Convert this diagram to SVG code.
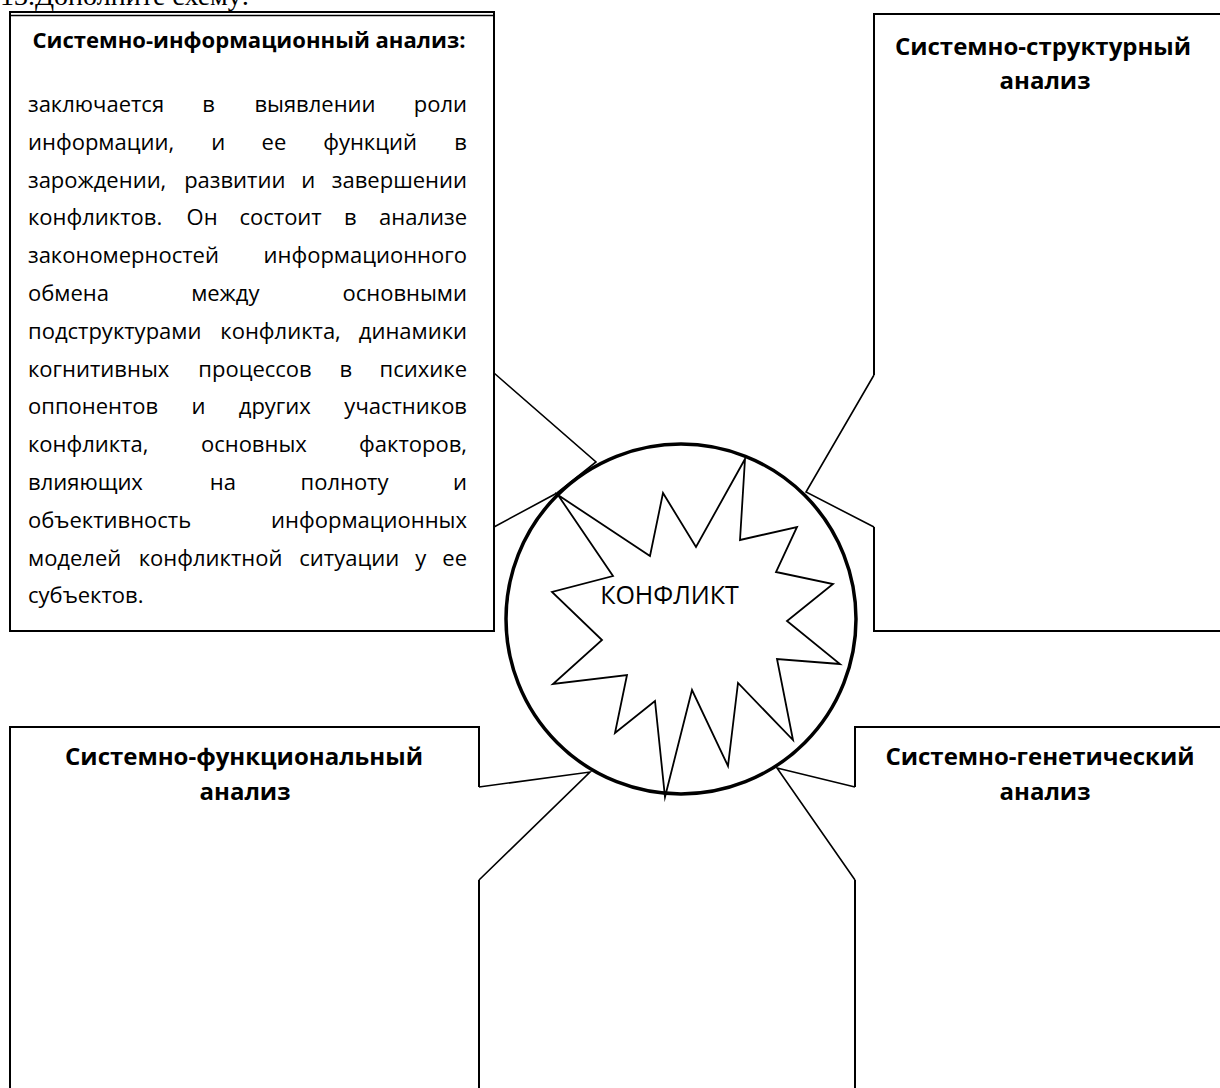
<svg xmlns="http://www.w3.org/2000/svg" width="1220" height="1088" viewBox="0 0 1220 1088">
<style>
.bx{fill:none;stroke:#000;stroke-width:2}
.cn{fill:none;stroke:#000;stroke-width:1.6;stroke-linejoin:miter}
.b{font-family:"Open Sans","Noto Sans",sans-serif;font-size:22px;fill:#000}
.m{text-anchor:middle}
.e{text-anchor:end}
.hd{font-family:"Open Sans","Noto Sans",sans-serif;font-size:24px;font-weight:bold;text-anchor:middle;fill:#000}
</style>
<rect width="1220" height="1088" fill="#fff"/>
<text x="0" y="5" font-family="Liberation Serif, serif" font-size="28">13.Дополните схему:</text>

<g id="connectors">
<path class="cn" d="M494,373 L596,462 L557,493 L494,527"/>
<path class="cn" d="M874,375 L806,492 L874,527"/>
<path class="cn" d="M479,787 L590,772 L479,880"/>
<path class="cn" d="M855,787 L777,768 L855,880"/>
</g>

<g id="node-info">
<rect class="bx" x="10" y="12" width="484" height="619"/>
<line x1="10" y1="15.5" x2="494" y2="15.5" stroke="#000" stroke-width="1.5"/>
<text class="hd" x="249" y="48" font-size="21.5" textLength="433" lengthAdjust="spacingAndGlyphs" style="font-size:21.5px">Системно-информационный анализ:</text>
<g class="b">
<text y="112"><tspan x="28">заключается</tspan><tspan class="m" x="208.5">в</tspan><tspan class="m" x="315">выявлении</tspan><tspan class="e" x="467">роли</tspan></text>
<text y="149.8"><tspan x="28">информации,</tspan><tspan class="m" x="218.2">и</tspan><tspan class="m" x="273.9">ее</tspan><tspan class="m" x="370.1">функций</tspan><tspan class="e" x="467">в</tspan></text>
<text y="187.6"><tspan x="28">зарождении,</tspan><tspan class="m" x="234.8">развитии</tspan><tspan class="m" x="308.3">и</tspan><tspan class="e" x="467">завершении</tspan></text>
<text y="225.4"><tspan x="28">конфликтов.</tspan><tspan class="m" x="202.1">Он</tspan><tspan class="m" x="280.6">состоит</tspan><tspan class="m" x="350.2">в</tspan><tspan class="e" x="467">анализе</tspan></text>
<text y="263.2"><tspan x="28">закономерностей</tspan><tspan class="e" x="467">информационного</tspan></text>
<text y="301"><tspan x="28">обмена</tspan><tspan class="m" x="225.3">между</tspan><tspan class="e" x="467">основными</tspan></text>
<text y="338.8"><tspan x="28">подструктурами</tspan><tspan class="m" x="280.6">конфликта,</tspan><tspan class="e" x="467">динамики</tspan></text>
<text y="376.6"><tspan x="28">когнитивных</tspan><tspan class="m" x="255">процессов</tspan><tspan class="m" x="345.9">в</tspan><tspan class="e" x="467">психике</tspan></text>
<text y="414.4"><tspan x="28">оппонентов</tspan><tspan class="m" x="198.6">и</tspan><tspan class="m" x="274.8">других</tspan><tspan class="e" x="467">участников</tspan></text>
<text y="452.2"><tspan x="28">конфликта,</tspan><tspan class="m" x="253.9">основных</tspan><tspan class="e" x="467">факторов,</tspan></text>
<text y="490"><tspan x="28">влияющих</tspan><tspan class="m" x="222.8">на</tspan><tspan class="m" x="344.5">полноту</tspan><tspan class="e" x="467">и</tspan></text>
<text y="527.8"><tspan x="28">объективность</tspan><tspan class="e" x="467">информационных</tspan></text>
<text y="565.6"><tspan x="28">моделей</tspan><tspan class="m" x="210.6">конфликтной</tspan><tspan class="m" x="349.2">ситуации</tspan><tspan class="m" x="420.7">у</tspan><tspan class="e" x="467">ее</tspan></text>
<text y="603.4"><tspan x="28">субъектов.</tspan></text>
</g>
</g>

<g id="node-structural">
<path class="bx" d="M1222,14 H874 V375 M874,527 V631 H1222"/>
<text class="hd" x="1043" y="55">Системно-структурный</text>
<text class="hd" x="1045" y="89">анализ</text>
</g>

<g id="node-functional">
<path class="bx" d="M10,1090 V727 H479 V787 M479,880 V1090"/>
<text class="hd" x="244" y="765">Системно-функциональный</text>
<text class="hd" x="245" y="800">анализ</text>
</g>

<g id="node-genetic">
<path class="bx" d="M1222,727 H855 V787 M855,880 V1090"/>
<text class="hd" x="1040" y="765">Системно-генетический</text>
<text class="hd" x="1045" y="800">анализ</text>
</g>

<g id="node-conflict">
<circle cx="681" cy="619" r="175" fill="none" stroke="#000" stroke-width="3.5"/>
<polygon fill="none" stroke="#000" stroke-width="1.8" stroke-linejoin="miter" stroke-miterlimit="10" points="558,495 650,556 663,493 696,547 745,459 740,540 797,527 776,572 833,584 787,621 840,664 777,659 793,740 738,683 728,766 692,690 665,797 655,701 615,733 627,675 553,684 602,640 552,592 613,576"/>
<text x="669.5" y="604" font-family="Open Sans, Noto Sans, sans-serif" font-size="25" text-anchor="middle">КОНФЛИКТ</text>
</g>
</svg>
